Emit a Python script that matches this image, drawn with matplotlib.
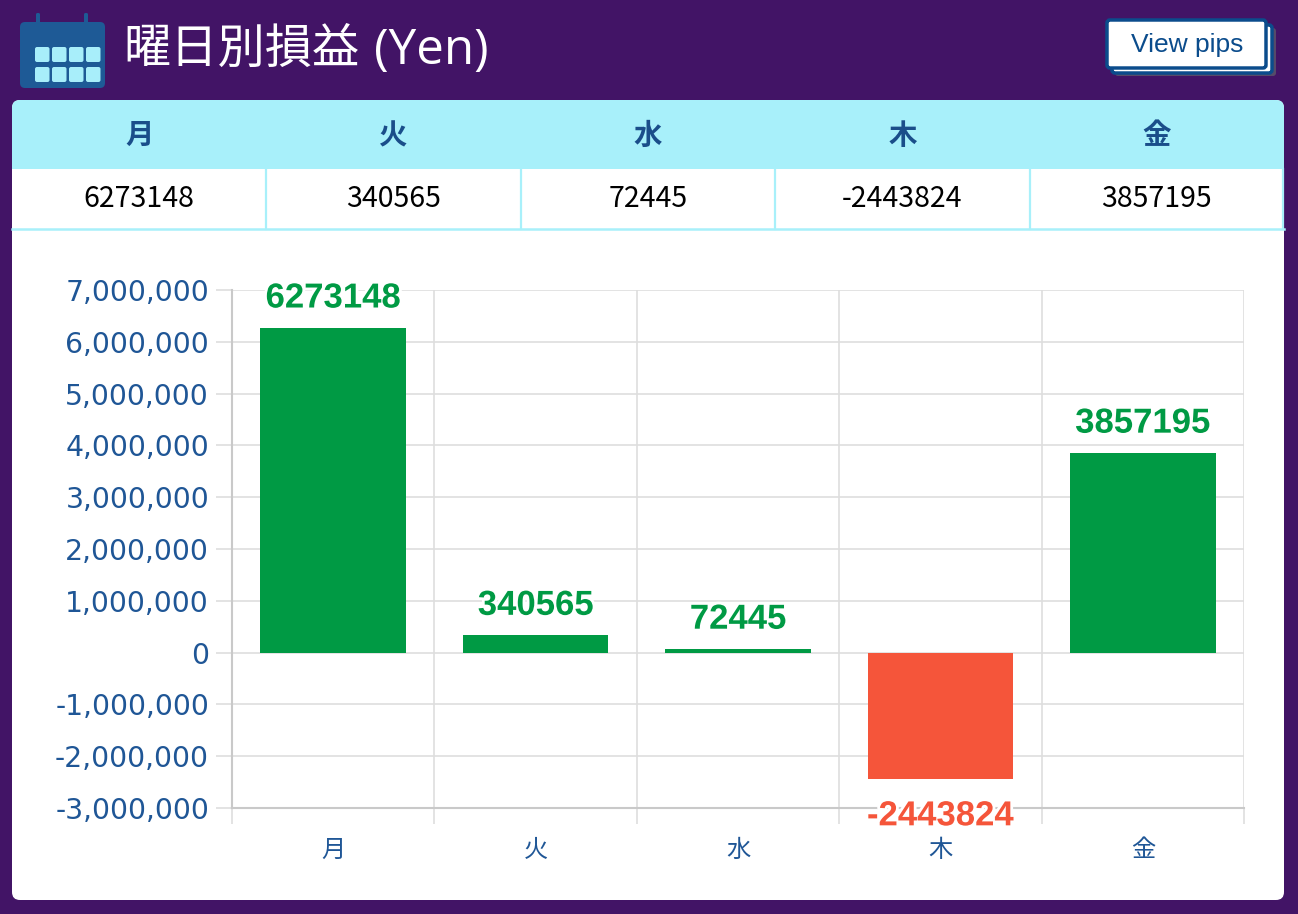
import matplotlib
matplotlib.use("Agg")
import matplotlib.pyplot as plt
from matplotlib.patches import FancyBboxPatch, Rectangle
from matplotlib.ticker import FuncFormatter, MultipleLocator, FixedLocator
import matplotlib.patheffects as pe

plt.rcParams['font.family'] = ['Noto Sans CJK JP', 'DejaVu Sans']

# ---- data ----
days = ['月', '火', '水', '木', '金']
profits = [6273148, 340565, 72445, -2443824, 3857195]
title_main = '曜日別損益'
title_unit = '(Yen)'
button_text = 'View pips'
y_min, y_max, y_step = -3000000, 7000000, 1000000

PURPLE = '#421466'
CYAN = '#A8F0FA'
BLUE = '#1F5696'
GREEN = '#009A44'
RED = '#F5553A'
GRID = '#DEDEDE'
AXIS = '#C9C9C9'

W, H = 1298, 914
fig = plt.figure(figsize=(W / 100, H / 100), dpi=100)
fig.patch.set_facecolor(PURPLE)

# background overlay in pixel coordinates
bg = fig.add_axes([0, 0, 1, 1], zorder=0)
bg.set_xlim(0, W)
bg.set_ylim(H, 0)
bg.axis('off')

# card
bg.add_patch(FancyBboxPatch((12, 100), 1272, 800, boxstyle='round,pad=0,rounding_size=8',
                            fc='white', ec='none'))
# header row
bg.add_patch(FancyBboxPatch((12, 100), 1272, 69, boxstyle='round,pad=0,rounding_size=8',
                            fc=CYAN, ec='none'))
bg.add_patch(Rectangle((12, 130), 1272, 39, fc=CYAN, ec='none'))
col_w = 1272 / 5
for i in range(1, 5):
    xx = 12 + i * col_w
    bg.plot([xx, xx], [169, 229], color=CYAN, lw=1.6)
bg.plot([1283, 1283], [169, 229], color=CYAN, lw=1.6)
bg.plot([12, 1284], [229, 229], color=CYAN, lw=1.8)
for i, (d, v) in enumerate(zip(days, profits)):
    cx = 12 + (i + 0.5) * col_w
    bg.text(cx, 136, d, ha='center', va='center', fontsize=20.5, fontweight='bold', color='#1A4E8A')
    bg.text(cx, 199, str(v), ha='center', va='center', fontsize=20.5, color='black')

# title + icon
bg.add_patch(FancyBboxPatch((20, 22), 85, 66, boxstyle='round,pad=0,rounding_size=5',
                            fc='#1E5A96', ec='none'))
for tx in (38, 86):
    bg.add_patch(FancyBboxPatch((tx - 2, 13), 4, 12, boxstyle='round,pad=0,rounding_size=1.5',
                                fc='#1E5A96', ec='none'))
for r, y0 in enumerate((47, 67)):
    for c in range(4):
        bg.add_patch(FancyBboxPatch((35 + c * 17, y0), 14.5, 15, boxstyle='round,pad=0,rounding_size=2',
                                    fc='#A8EEFA', ec='none'))
bg.text(123, 50, title_main, ha='left', va='center', fontsize=34, color='white')
bg.text(374, 51, title_unit, ha='left', va='center', fontsize=35.5, color='white',
        family=['Open Sans', 'DejaVu Sans'])

# button
bg.add_patch(FancyBboxPatch((1115, 28), 161, 48, boxstyle='round,pad=0,rounding_size=3',
                            fc='#5A5A6A', ec='none', alpha=0.8))
bg.add_patch(FancyBboxPatch((1112, 25), 160, 48, boxstyle='round,pad=0,rounding_size=3',
                            fc='white', ec='#0B4C8C', lw=2.5))
bg.add_patch(FancyBboxPatch((1107, 20), 159, 48, boxstyle='round,pad=0,rounding_size=3',
                            fc='white', ec='#0B4C8C', lw=2.5))
bg.text(1187, 45, button_text, ha='center', va='center', fontsize=19,
        family=['Liberation Sans', 'DejaVu Sans'], color='#0B4C8C')

# ---- chart ----
L, R, T, B = 232, 1244, 290, 808
ax = fig.add_axes([L / W, (H - B) / H, (R - L) / W, (B - T) / H], zorder=2)
ax.patch.set_alpha(0)
x = list(range(len(days)))
colors = [GREEN if v >= 0 else RED for v in profits]
ax.bar(x, profits, width=0.72, color=colors, zorder=3)
ax.set_xlim(-0.5, len(days) - 0.5)
ax.set_ylim(y_min, y_max)
ax.yaxis.set_major_locator(MultipleLocator(y_step))
ax.yaxis.set_major_formatter(FuncFormatter(lambda v, p: f'{int(v):,}'))
ax.set_xticks(x)
ax.set_xticklabels(days)
ax.xaxis.set_minor_locator(FixedLocator([i - 0.5 for i in range(len(days) + 1)]))
ax.grid(True, axis='y', which='major', color=GRID, lw=1.2, zorder=0)
ax.grid(True, axis='x', which='minor', color=GRID, lw=1.2, zorder=0)
ax.tick_params(axis='y', length=11.5, width=1.2, color=GRID, pad=5, labelsize=20.3, labelcolor=BLUE)
for lbl in ax.get_yticklabels():
    lbl.set_family(['DejaVu Sans'])
ax.tick_params(axis='x', which='major', length=0, pad=21, labelsize=17.5, labelcolor=BLUE)
ax.tick_params(axis='x', which='minor', length=11.5, width=1.2, color=GRID)
for s in ('top', 'right'):
    ax.spines[s].set_visible(False)
for s in ('left', 'bottom'):
    ax.spines[s].set_color(AXIS)
    ax.spines[s].set_linewidth(1.5)

for xi, v, c in zip(x, profits, colors):
    common = dict(ha='center', fontsize=25, fontweight='bold', color=c,
                  family=['Liberation Sans', 'DejaVu Sans'], zorder=5, annotation_clip=False,
                  path_effects=[pe.withStroke(linewidth=4, foreground='white')])
    if v >= 0:
        ax.annotate(str(v), (xi, v), xytext=(0, 14.5), textcoords='offset points',
                    va='baseline', **common)
    else:
        ax.annotate(str(v), (xi, v), xytext=(0, -14.5), textcoords='offset points',
                    va='top', **common)

fig.savefig('out.png', dpi=100, facecolor=fig.get_facecolor())
